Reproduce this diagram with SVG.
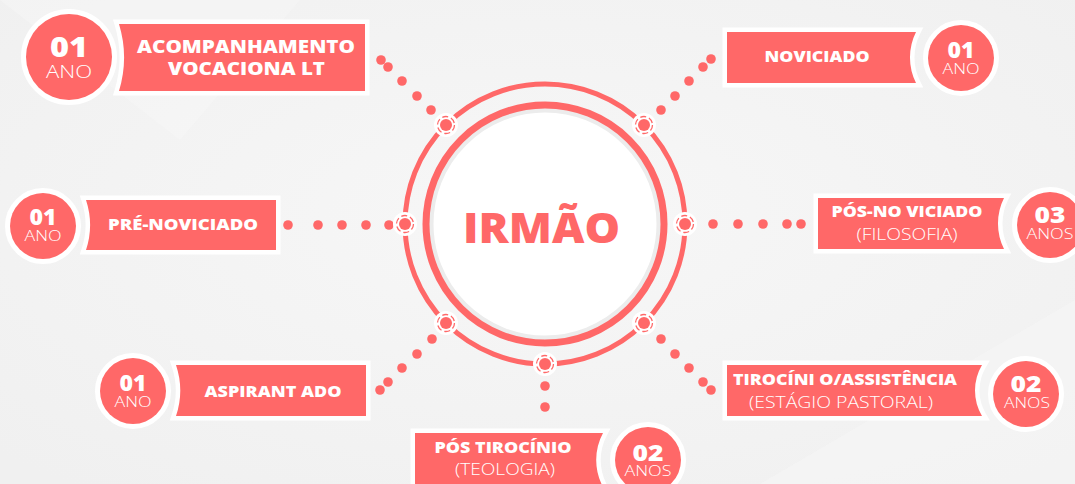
<svg xmlns="http://www.w3.org/2000/svg" width="1075" height="484" viewBox="0 0 1075 484">
<defs>
<style>
.bx{fill:#ff6868;stroke:#fff;stroke-width:9;paint-order:stroke}
.cr{fill:#ff6868;stroke:#fff;stroke-width:10;paint-order:stroke}
.t{font-family:"Open Sans","Liberation Sans",sans-serif;fill:#fff;text-anchor:middle}
.b{font-weight:800}
.l{font-weight:300}
.d{fill:#ff6868}
.nw{fill:#fff}
.nr{fill:none;stroke:#ff6868;stroke-width:1.3;stroke-dasharray:6 3}
</style>
<radialGradient id="bg" cx="50%" cy="45%" r="70%">
<stop offset="0" stop-color="#f7f7f7"/>
<stop offset="1" stop-color="#f0f0f0"/>
</radialGradient>
</defs>
<rect width="1075" height="484" fill="url(#bg)"/>
<path d="M0 0 L300 0 L180 140 Z" fill="#fafafa" opacity="0.35"/>
<path d="M760 484 L1075 300 L1075 484 Z" fill="#fafafa" opacity="0.35"/>

<g id="center">
<circle cx="545" cy="224" r="140" fill="none" stroke="#ff6868" stroke-width="5"/>
<circle cx="545" cy="224" r="114" fill="#fff" stroke="#ececec" stroke-width="5"/>
<circle cx="545" cy="224" r="119" fill="none" stroke="#ff6868" stroke-width="7"/>
<text class="b" x="541.5" y="243" font-family="Open Sans, Liberation Sans, sans-serif" font-size="42" fill="#ff6868" text-anchor="middle" textLength="157" lengthAdjust="spacingAndGlyphs">IRMÃO</text>
</g>

<g id="connectors">
<circle class="d" cx="431" cy="110" r="4.8"/><circle class="d" cx="417" cy="96" r="4.8"/><circle class="d" cx="402" cy="81" r="4.8"/><circle class="d" cx="388" cy="67" r="4.8"/><circle class="d" cx="381" cy="60" r="4.8"/>
<circle class="d" cx="661" cy="110" r="4.8"/><circle class="d" cx="675" cy="96" r="4.8"/><circle class="d" cx="689" cy="81" r="4.8"/><circle class="d" cx="703" cy="67" r="4.8"/><circle class="d" cx="711" cy="59" r="4.8"/>
<circle class="d" cx="288" cy="225" r="4.8"/><circle class="d" cx="318" cy="225" r="4.8"/><circle class="d" cx="342" cy="225" r="4.8"/><circle class="d" cx="366" cy="225" r="4.8"/><circle class="d" cx="389" cy="225" r="4.8"/>
<circle class="d" cx="713" cy="224" r="4.8"/><circle class="d" cx="738" cy="224" r="4.8"/><circle class="d" cx="763" cy="224" r="4.8"/><circle class="d" cx="787" cy="224" r="4.8"/><circle class="d" cx="801" cy="224" r="4.8"/>
<circle class="d" cx="432" cy="339" r="4.8"/><circle class="d" cx="417" cy="354" r="4.8"/><circle class="d" cx="402" cy="368" r="4.8"/><circle class="d" cx="388" cy="382" r="4.8"/><circle class="d" cx="380" cy="390" r="4.8"/>
<circle class="d" cx="661" cy="339" r="4.8"/><circle class="d" cx="675" cy="354" r="4.8"/><circle class="d" cx="689" cy="368" r="4.8"/><circle class="d" cx="703" cy="382" r="4.8"/><circle class="d" cx="711" cy="390" r="4.8"/>
<circle class="d" cx="545" cy="386" r="4.8"/><circle class="d" cx="545" cy="407" r="4.8"/>
<g>
<circle class="nw" cx="446" cy="125" r="12"/><circle class="nr" cx="446" cy="125" r="8.5"/><circle class="d" cx="446" cy="125" r="6"/>
<circle class="nw" cx="644" cy="125" r="12"/><circle class="nr" cx="644" cy="125" r="8.5"/><circle class="d" cx="644" cy="125" r="6"/>
<circle class="nw" cx="405" cy="224" r="12"/><circle class="nr" cx="405" cy="224" r="8.5"/><circle class="d" cx="405" cy="224" r="6"/>
<circle class="nw" cx="685" cy="224" r="12"/><circle class="nr" cx="685" cy="224" r="8.5"/><circle class="d" cx="685" cy="224" r="6"/>
<circle class="nw" cx="446" cy="323" r="12"/><circle class="nr" cx="446" cy="323" r="8.5"/><circle class="d" cx="446" cy="323" r="6"/>
<circle class="nw" cx="644" cy="323" r="12"/><circle class="nr" cx="644" cy="323" r="8.5"/><circle class="d" cx="644" cy="323" r="6"/>
<circle class="nw" cx="545" cy="364" r="12"/><circle class="nr" cx="545" cy="364" r="8.5"/><circle class="d" cx="545" cy="364" r="6"/>
</g>
</g>

<g id="acompanhamento">
<path class="bx" d="M119 24 L365 24 L365 91 L119 91 A115 115 0 0 0 119 24 Z"/>
<text class="t b" x="246" y="53" font-size="17" textLength="218" lengthAdjust="spacingAndGlyphs">ACOMPANHAMENTO</text>
<text class="t b" x="246.5" y="75" font-size="17" textLength="157" lengthAdjust="spacingAndGlyphs">VOCACIONA LT</text>
<circle class="cr" cx="69" cy="57" r="43"/>
<text class="t b" x="69" y="57" font-size="28" textLength="38" lengthAdjust="spacingAndGlyphs">01</text>
<text class="t l" x="69" y="78" font-size="18" textLength="46" lengthAdjust="spacingAndGlyphs">ANO</text>
</g>

<g id="noviciado">
<path class="bx" d="M727 32 L916 32 A57 57 0 0 0 916 83 L727 83 Z"/>
<text class="t b" x="817" y="62" font-size="16" textLength="105" lengthAdjust="spacingAndGlyphs">NOVICIADO</text>
<circle class="cr" cx="961" cy="58" r="33"/>
<text class="t b" x="961" y="58" font-size="22" textLength="27" lengthAdjust="spacingAndGlyphs">01</text>
<text class="t l" x="961" y="74" font-size="15" textLength="37" lengthAdjust="spacingAndGlyphs">ANO</text>
</g>

<g id="pre-noviciado">
<path class="bx" d="M86 200 L276 200 L276 250 L86 250 A80 80 0 0 0 86 200 Z"/>
<text class="t b" x="183" y="230" font-size="16" textLength="150" lengthAdjust="spacingAndGlyphs">PRÉ-NOVICIADO</text>
<circle class="cr" cx="43" cy="226" r="33"/>
<text class="t b" x="43" y="225" font-size="22" textLength="27" lengthAdjust="spacingAndGlyphs">01</text>
<text class="t l" x="43" y="241" font-size="15" textLength="37" lengthAdjust="spacingAndGlyphs">ANO</text>
</g>

<g id="pos-noviciado">
<path class="bx" d="M818 198 L1004 198 A57 57 0 0 0 1004 249 L818 249 Z"/>
<text class="t b" x="907" y="217" font-size="16" textLength="151" lengthAdjust="spacingAndGlyphs">PÓS-NO VICIADO</text>
<text class="t l" x="907" y="240" font-size="16" textLength="101" lengthAdjust="spacingAndGlyphs">(FILOSOFIA)</text>
<circle class="cr" cx="1050" cy="225" r="33"/>
<text class="t b" x="1050" y="223" font-size="22" textLength="31" lengthAdjust="spacingAndGlyphs">03</text>
<text class="t l" x="1050" y="239" font-size="15" textLength="47" lengthAdjust="spacingAndGlyphs">ANOS</text>
</g>

<g id="aspirantado">
<path class="bx" d="M176 365 L366 365 L366 416 L176 416 A80 80 0 0 0 176 365 Z"/>
<text class="t b" x="273" y="397" font-size="16" textLength="137" lengthAdjust="spacingAndGlyphs">ASPIRANT ADO</text>
<circle class="cr" cx="133" cy="391" r="33"/>
<text class="t b" x="133" y="391" font-size="22" textLength="27" lengthAdjust="spacingAndGlyphs">01</text>
<text class="t l" x="133" y="407" font-size="15" textLength="37" lengthAdjust="spacingAndGlyphs">ANO</text>
</g>

<g id="tirocinio">
<path class="bx" d="M727 365 L982 365 A50 50 0 0 0 982 416 L727 416 Z"/>
<text class="t b" x="845" y="385" font-size="16" textLength="224" lengthAdjust="spacingAndGlyphs">TIROCÍNI O/ASSISTÊNCIA</text>
<text class="t l" x="841" y="408" font-size="16" textLength="184" lengthAdjust="spacingAndGlyphs">(ESTÁGIO PASTORAL)</text>
<circle class="cr" cx="1026" cy="394" r="33"/>
<text class="t b" x="1026" y="392" font-size="22" textLength="31" lengthAdjust="spacingAndGlyphs">02</text>
<text class="t l" x="1027" y="408" font-size="15" textLength="46" lengthAdjust="spacingAndGlyphs">ANOS</text>
</g>

<g id="pos-tirocinio">
<path class="bx" d="M415 433 L603 433 A57 57 0 0 0 603 487 L603 495 L415 495 Z"/>
<text class="t b" x="503" y="453" font-size="16" textLength="137" lengthAdjust="spacingAndGlyphs">PÓS TIROCÍNIO</text>
<text class="t l" x="505" y="475" font-size="16" textLength="100" lengthAdjust="spacingAndGlyphs">(TEOLOGIA)</text>
<circle class="cr" cx="648" cy="460" r="33"/>
<text class="t b" x="648" y="461" font-size="22" textLength="31" lengthAdjust="spacingAndGlyphs">02</text>
<text class="t l" x="648" y="476" font-size="15" textLength="47" lengthAdjust="spacingAndGlyphs">ANOS</text>
</g>
</svg>
